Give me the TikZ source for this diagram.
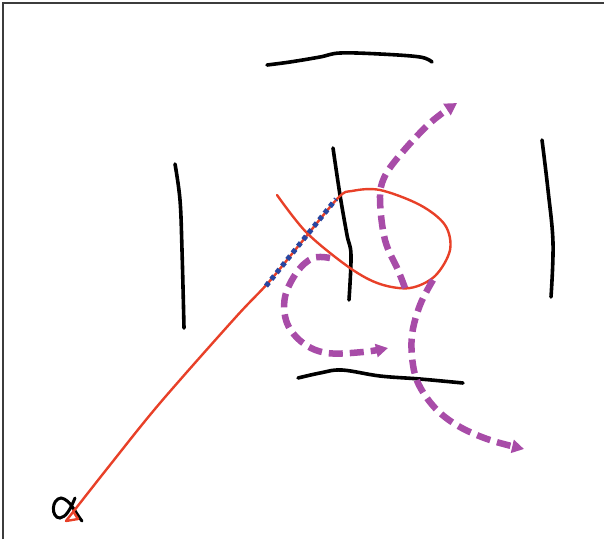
\documentclass[tikz,border=0pt]{standalone}
\usetikzlibrary{arrows.meta}
\definecolor{inkred}{RGB}{232,64,40}
\definecolor{inkpurple}{RGB}{168,76,168}
\definecolor{inkblue}{RGB}{40,70,160}
\definecolor{framegray}{RGB}{60,60,60}
\tikzset{
  wall/.style={black, line width=3.6pt, line cap=round, line join=round},
  redpath/.style={inkred, line width=2.4pt, line cap=round, line join=round},
  bluedots/.style={inkblue, line width=5pt, dash pattern=on 4.5pt off 4pt},
  flow/.style={inkpurple, line width=6.5pt, dash pattern=on 14pt off 7pt,
    -{Triangle[length=12pt,width=13pt]}}
}
\begin{document}
\begin{tikzpicture}[x=1pt,y=-1pt]
\useasboundingbox (0,0) rectangle (604,539);
% frame
\draw[framegray, line width=1.2pt] (3,539) -- (3,3) -- (604,3);
% walls
\draw[wall] plot[smooth, tension=0.6] coordinates {(267,65) (290,62) (320,57) (340,53) (380,54) (420,57) (432,62)};
\draw[wall] plot[smooth, tension=0.6] coordinates {(175,164) (180,200) (182,250) (184,328)};
\draw[wall] plot[smooth, tension=0.6] coordinates {(542,140) (548,190) (553,243) (551,297)};
\draw[wall] plot[smooth, tension=0.6] coordinates {(333,148) (340,195) (347,235) (351,255) (349,300)};
\draw[wall] plot[smooth, tension=0.6] coordinates {(298,378) (320,373) (342,370) (380,376) (420,379) (463,383)};
% alpha
\draw[black, line width=3pt, line cap=round] (75,498) .. controls (70,510) and (66,517) .. (60,518) .. controls (51,518) and (51,499) .. (61,498) .. controls (70,499) and (76,514) .. (82,521);
% red path
\draw[redpath] plot[smooth, tension=0.55] coordinates {(277,195) (307,233) (350,268) (380,284) (410,288) (435,276) (450,250) (445,225) (420,205) (380,190) (352,191) (338,198) (300,244) (268,283) (235,318) (160,403) (110,465) (66,521)};
\draw[redpath] (66,521) -- (78,519) -- (73,511);
% blue dotted overlay
\draw[bluedots] (266,286) -- (336,199);
% purple flows
\draw[flow] plot[smooth, tension=0.6] coordinates {(330,258) (313,258) (297,272) (285,297) (287,323) (303,343) (327,353) (363,352) (388,348)};
\draw[flow] plot[smooth, tension=0.6] coordinates {(405,288) (398,270) (385,240) (380,200) (384,178) (400,155) (430,123) (457,103)};
\draw[flow] plot[smooth, tension=0.6] coordinates {(433,280) (420,305) (412,335) (413,365) (420,387) (437,410) (460,427) (490,440) (524,449)};
\end{tikzpicture}
\end{document}
